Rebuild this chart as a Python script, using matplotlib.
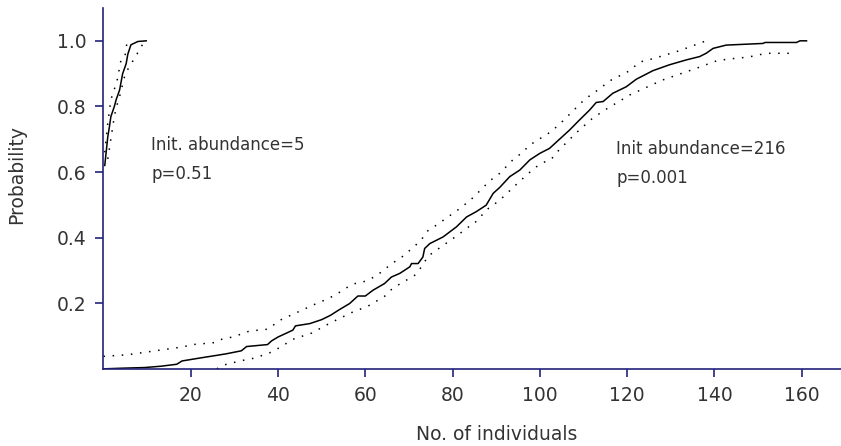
# Probability vs. number of individuals (two initial abundances)

import matplotlib.pyplot as plt

# Data
# Init. abundance = 5
small_x = [0.3, 1.0, 1.37, 1.7, 2.5, 2.9, 3.7, 4.4, 5.2, 5.6, 6.3, 7.9, 9.8]
small_y = [0.62, 0.708, 0.738, 0.769, 0.80, 0.82, 0.85, 0.90, 0.93, 0.96, 0.988, 0.998, 1.0]
small_up_x = [0.3, 1.0, 1.7, 2.4, 3.0, 4.0, 4.9, 5.4, 6.5]
small_up_y = [0.66, 0.75, 0.82, 0.85, 0.87, 0.94, 0.95, 0.995, 1.0]
small_lo_x = [1.0, 2.5, 3.0, 3.7, 5.0, 7.7, 9.0]
small_lo_y = [0.64, 0.77, 0.80, 0.83, 0.90, 0.96, 0.99]

# Init. abundance = 216
big_x = [0, 4.4, 9.5, 13.2, 16.8, 18, 22.1, 25.9, 28.2, 31.6, 32.8, 37.6, 38.5, 40,
         43.4, 44, 47.3, 50, 52, 54, 56.4, 58.3, 60, 61.8, 64.4, 66, 67.9, 70.2, 70.6,
         72.1, 73.2, 73.6, 74.8, 77.8, 80.9, 83.2, 85.4, 87.7, 89.3, 90.8, 93.1, 95.4,
         97.7, 100, 102.2, 104.5, 106.8, 109.1, 111.4, 112.9, 114.5, 116.7, 119.8,
         122.1, 125.9, 129.7, 133.6, 136.6, 138.1, 139.7, 142.7, 151.1, 151.6, 158.8,
         159.6, 161.1]
big_y = [0, 0.002, 0.004, 0.008, 0.014, 0.024, 0.033, 0.041, 0.046, 0.055, 0.068,
         0.074, 0.085, 0.097, 0.118, 0.131, 0.138, 0.15, 0.163, 0.18, 0.199, 0.222,
         0.222, 0.240, 0.260, 0.280, 0.291, 0.311, 0.321, 0.321, 0.341, 0.367, 0.382,
         0.402, 0.433, 0.463, 0.479, 0.499, 0.535, 0.553, 0.586, 0.606, 0.637, 0.657,
         0.672, 0.70, 0.728, 0.759, 0.789, 0.812, 0.815, 0.840, 0.860, 0.883, 0.909,
         0.927, 0.942, 0.952, 0.962, 0.977, 0.987, 0.992, 0.995, 0.995, 1.0, 1.0]
big_up_x = [0, 5.6, 18.2, 20.5, 25.5, 27.4, 29.7, 33.4, 37.7, 40.4, 48.8, 51.5, 53.7,
            57, 60, 62.5, 65.9, 68.8, 72.8, 74, 76.5, 82, 84.7, 88.5, 90.8, 93.8, 96.5,
            97.3, 102.2, 104.3, 110.3, 113.5, 116, 120.6, 122.8, 126.3, 132, 137.7]
big_up_y = [0.038, 0.043, 0.067, 0.074, 0.080, 0.092, 0.097, 0.115, 0.121, 0.148,
            0.199, 0.214, 0.230, 0.258, 0.267, 0.283, 0.319, 0.345, 0.392, 0.418, 0.44,
            0.492, 0.522, 0.573, 0.596, 0.637, 0.665, 0.679, 0.72, 0.743, 0.822, 0.852,
            0.878, 0.909, 0.935, 0.947, 0.97, 0.998]
big_lo_x = [26, 27, 28.2, 32, 34.7, 38.1, 40.4, 43.4, 47.7, 52, 57.1, 60.6, 64.4, 66.3,
            68.6, 71.3, 73.2, 74.3, 80.9, 83.9, 84.6, 88, 90.8, 94.2, 97.2, 99.2, 101.9,
            102.6, 104.5, 104.9, 106.4, 108, 109.5, 111.6, 114.5, 120.6, 128, 135.8,
            140.7, 145, 147.6, 151.9, 158.8]
big_lo_y = [0, 0.008, 0.014, 0.026, 0.033, 0.049, 0.065, 0.09, 0.109, 0.14, 0.173,
            0.191, 0.221, 0.246, 0.264, 0.285, 0.316, 0.343, 0.405, 0.435, 0.438, 0.487,
            0.514, 0.557, 0.594, 0.616, 0.637, 0.639, 0.669, 0.675, 0.693, 0.716, 0.733,
            0.759, 0.786, 0.835, 0.88, 0.916, 0.94, 0.947, 0.95, 0.962, 0.962]

x_ticks = [20, 40, 60, 80, 100, 120, 140, 160]
y_ticks = [0.2, 0.4, 0.6, 0.8, 1.0]

axis_col = '#23237a'
text_col = '#333333'
dots = (0, (1, 5))

fig = plt.figure(figsize=(8.41, 4.46), dpi=100)
ax = fig.add_axes([0.123, 0.173, 0.877, 0.809])

# curves and confidence bounds
ax.plot(small_x, small_y, color='black', lw=1.1)
ax.plot(small_up_x, small_up_y, color='black', lw=1.1, linestyle=dots)
ax.plot(small_lo_x, small_lo_y, color='black', lw=1.1, linestyle=dots)
ax.plot(big_x, big_y, color='black', lw=1.1)
ax.plot(big_up_x, big_up_y, color='black', lw=1.1, linestyle=dots)
ax.plot(big_lo_x, big_lo_y, color='black', lw=1.1, linestyle=dots)

# annotations
ax.text(11.0, 0.667, "Init. abundance=5", fontsize=12, color=text_col, va='baseline')
ax.text(11.0, 0.580, "p=0.51", fontsize=12, color=text_col, va='baseline')
ax.text(117.5, 0.655, "Init abundance=216", fontsize=12, color=text_col, va='baseline')
ax.text(117.5, 0.567, "p=0.001", fontsize=12, color=text_col, va='baseline')

ax.set_xlim(0, 169)
ax.set_ylim(0, 1.10)
ax.set_xticks(x_ticks)
ax.set_yticks(y_ticks)
ax.set_yticklabels([f"{v:.1f}" for v in y_ticks])

for side in ['top', 'right']:
    ax.spines[side].set_visible(False)
for side in ['left', 'bottom']:
    ax.spines[side].set_color(axis_col)
    ax.spines[side].set_linewidth(1.2)
ax.tick_params(direction='out', length=6, width=1.2, color=axis_col,
               labelsize=13.5, labelcolor=text_col, pad=6)

fig.text(497 / 841, 1 - 435 / 446, "No. of individuals", fontsize=13.5,
         color=text_col, ha='center', va='center')
fig.text(17 / 841, 1 - 175 / 446, "Probability", fontsize=13.5, color=text_col,
         ha='center', va='center', rotation=90)

fig.savefig("out.png", dpi=100)
